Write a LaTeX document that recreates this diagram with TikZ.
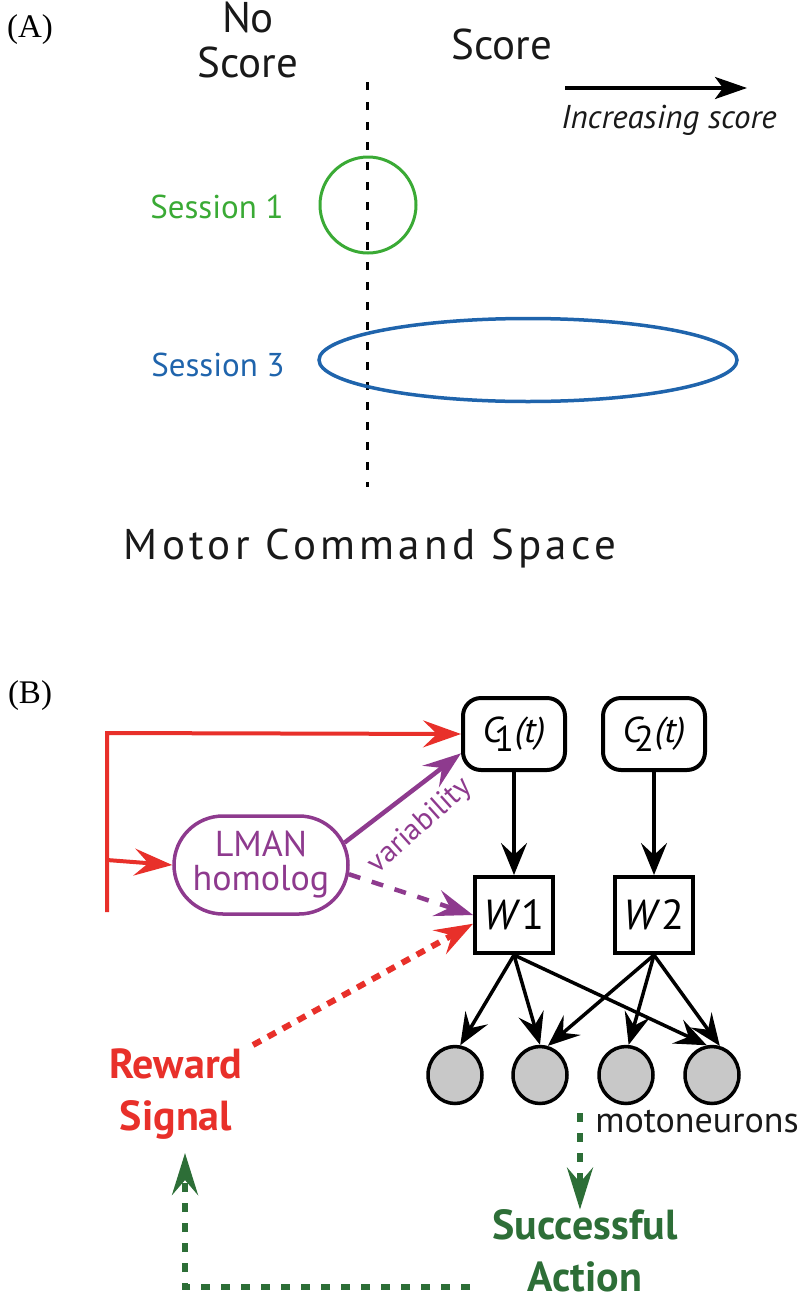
\documentclass[tikz,border=0pt]{standalone}
\usepackage{fontspec}
\setmainfont{PT Sans}
\newfontfamily\serifA{Liberation Serif}
\newfontfamily\spacedF[LetterSpace=10]{PT Sans}
\usetikzlibrary{arrows.meta,shapes.geometric,shapes.misc}
\definecolor{gA}{RGB}{58,170,53}
\definecolor{bA}{RGB}{31,100,172}
\definecolor{redB}{RGB}{232,48,42}
\definecolor{purB}{RGB}{142,58,142}
\definecolor{grB}{RGB}{45,110,55}
\definecolor{grayB}{RGB}{200,200,200}
\newcommand{\fs}[1]{\fontsize{#1}{#1}\selectfont}
\tikzset{
  tipR/.style={-{Stealth[length=38pt,width=27pt,inset=14pt]}},
  tipG/.style={-{Stealth[length=42pt,width=26pt,inset=15pt]}},
  tipK/.style={-{Stealth[length=32pt,width=26pt,inset=12pt]}},
  redline/.style={draw=redB,line width=4pt},
  purline/.style={draw=purB,line width=4.5pt},
  blkline/.style={draw=black,line width=3.5pt},
  grdot/.style={draw=grB,line width=5.5pt,dash pattern=on 9pt off 11pt},
  cbox/.style={draw,line width=4pt,rounded corners=18pt,minimum width=102pt,minimum height=72pt,inner sep=0pt,font=\fs{36}},
  wbox/.style={draw,line width=4pt,minimum width=78pt,minimum height=76pt,inner sep=0pt,font=\fs{42}},
  moto/.style={ellipse,draw,line width=3.5pt,fill=grayB,minimum width=54pt,minimum height=57pt,inner sep=0pt},
}
\begin{document}
\begin{tikzpicture}[x=1pt,y=-1pt]
\useasboundingbox (0,0) rectangle (798,1301);
% ---------- Panel A ----------
\node[font=\serifA\fs{33}] (labA) at (30,30) {(A)};
\node[align=center,font=\fontsize{43}{45}\selectfont,text=black!90] (noscore) at (248,40) {No\\Score};
\node[font=\fs{43},text=black!90] (score) at (502,44) {Score};
\coordinate (arS) at (565,88);
\coordinate (arE) at (747,88);
\draw[line width=3.5pt,-{Stealth[length=32pt,width=22pt,inset=8pt]}] (arS) -- (arE);
\node[font=\fs{33}\itshape,text=black!90] (incr) at (669,120) {Increasing score};
\coordinate (dT) at (367,82);
\coordinate (dB) at (367,487);
\draw[line width=3pt,dash pattern=on 8pt off 12pt] (dT) -- (dB);
\node[circle,draw=gA,line width=3pt,minimum size=96pt] (s1) at (368,205) {};
\node[ellipse,draw=bA,line width=3.5pt,minimum width=418pt,minimum height=83pt] (s3) at (528,360) {};
\node[font=\fs{33},text=gA] (s1lab) at (217,207) {Session 1};
\node[font=\fs{33},text=bA] (s3lab) at (218,365) {Session 3};
\node[font=\spacedF\fs{43},text=black!90] (mcs) at (370,548) {Motor Command Space};
% ---------- Panel B ----------
\node[font=\serifA\fs{33}] (labB) at (30,696) {(B)};
\node[cbox] (c1) at (514,734) {\textit{C}\kern-10pt\raisebox{-9pt}{1}\kern1pt\textit{(t)}};
\node[cbox] (c2) at (654,734) {\textit{C}\kern-10pt\raisebox{-9pt}{2}\kern1pt\textit{(t)}};
\node[wbox] (w1) at (514,915) {\textit{W}1};
\node[wbox] (w2) at (654,915) {\textit{W}2};
\node[rounded rectangle,draw=purB,line width=3.5pt,minimum width=178pt,minimum height=98pt,inner sep=2pt,align=center,text=purB,font=\fontsize{36}{34}\selectfont] (lman) at (261,865) {LMAN\\homolog};
\node[moto] (m1) at (455,1075) {};
\node[moto] (m2) at (540,1075) {};
\node[moto] (m3) at (626,1075) {};
\node[moto] (m4) at (712,1075) {};
\node[font=\fs{36},text=black!90,inner sep=1pt] (mot) at (697,1122) {motoneurons};
\node[align=center,inner sep=0pt,font=\bfseries\fontsize{42}{52}\selectfont,text=redB] (rew) at (176,1094) {Reward\\Signal};
\node[align=center,inner sep=0pt,font=\bfseries\fontsize{42}{52}\selectfont,text=grB] (succ) at (585,1251) {Successful\\Action};
% red connectors
\coordinate (rT) at (107,733);
\coordinate (rM) at (107,860);
\coordinate (rB) at (107,912);
\draw[redline,tipR] (rB) -- (rT) -- (c1.west);
\draw[redline,tipR] (rM) -- (lman.west);
\coordinate (rs) at (253,1045);
\draw[redB,line width=6pt,dash pattern=on 9pt off 8pt,tipR] (rs) -- (w1.192);
% purple connectors
\draw[purline,tipR] (lman.15) -- (c1.200);
\node[rotate=42,font=\fs{30},text=purB,inner sep=0pt] (var) at (420,826) {variability};
\draw[purline,dash pattern=on 12pt off 12pt,tipR] (lman.-6) -- (w1.west);
% black connectors
\draw[blkline,tipK] (c1) -- (w1);
\draw[blkline,tipK] (c2) -- (w2);
\draw[blkline,tipK] (w1.south) -- (m1.80);
\draw[blkline,tipK] (w1.south) -- (m2.north);
\draw[blkline,tipK] (w1.south) -- (m4.100);
\draw[blkline,tipK] (w2.south) -- (m2.75);
\draw[blkline,tipK] (w2.south) -- (m3.85);
\draw[blkline,tipK] (w2.south) -- (m4.75);
% green connectors
\coordinate (gT) at (580,1113);
\draw[grdot,tipG] (gT) -- (gT |- succ.north);
\coordinate (gS) at (470,1287);
\coordinate (gC) at (185,1287);
\coordinate (gE) at (185,1153);
\draw[grdot,tipG] (gS) -- (gC) -- (gE);
\end{tikzpicture}
\end{document}
